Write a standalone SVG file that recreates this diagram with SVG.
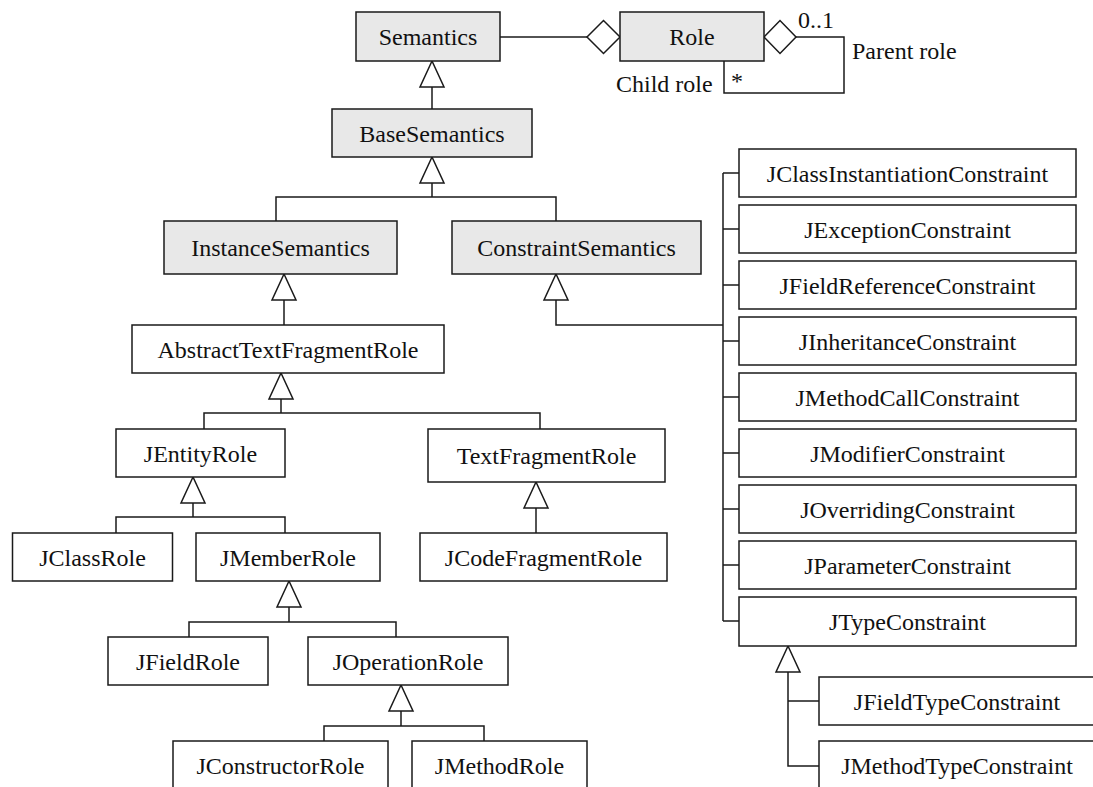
<svg xmlns="http://www.w3.org/2000/svg" width="1093" height="787" viewBox="0 0 1093 787">
  <style>
    .box { fill: #ffffff; stroke: #1a1a1a; stroke-width: 1.5; }
    .abs { fill: #e8e8e8; stroke: #1a1a1a; stroke-width: 1.5; }
    .lbl { font-family: "Liberation Serif", "Times New Roman", serif; font-size: 24px; fill: #111; text-anchor: middle; }
    .note { font-family: "Liberation Serif", "Times New Roman", serif; font-size: 24px; fill: #111; }
    .wire { fill: none; stroke: #1a1a1a; stroke-width: 1.5; }
    .tri { fill: #ffffff; stroke: #1a1a1a; stroke-width: 1.5; stroke-linejoin: miter; }
  </style>
  <rect width="1093" height="787" fill="#ffffff"/>

  <!-- connectors: generalisations, aggregations and the role self-association -->
  <g id="connectors">
    <!-- Semantics <>- Role -->
    <path class="wire" d="M500 37 H587"/>
    <polygon class="tri" points="587,37 603.5,20.5 620,37 603.5,53.5"/>
    <!-- Role self-aggregation (parent / child) -->
    <polygon class="tri" points="764,37 780,20.5 796,37 780,53.5"/>
    <path class="wire" d="M796 37 H844 V93 H724 V61"/>

    <!-- BaseSemantics -> Semantics -->
    <path class="wire" d="M432 87 V109"/>
    <polygon class="tri" points="432,61 420,87 444,87"/>

    <!-- Instance/ConstraintSemantics -> BaseSemantics -->
    <path class="wire" d="M432 183 V197 M276 221 V197 H556 V221"/>
    <polygon class="tri" points="432,157 420,183 444,183"/>

    <!-- AbstractTextFragmentRole -> InstanceSemantics -->
    <path class="wire" d="M284 300 V325"/>
    <polygon class="tri" points="284,274 272,300 296,300"/>

    <!-- constraint classes -> ConstraintSemantics -->
    <path class="wire" d="M556 300 V325 H723"/>
    <polygon class="tri" points="556,274 544,300 568,300"/>
    <path class="wire" d="M723 173 V621 M723 173 H739 M723 229 H739 M723 285 H739 M723 341 H739 M723 397 H739 M723 453 H739 M723 509 H739 M723 565 H739 M723 621 H739"/>

    <!-- JEntityRole / TextFragmentRole -> AbstractTextFragmentRole -->
    <path class="wire" d="M281 399 V413 M204 429 V413 H540 V429"/>
    <polygon class="tri" points="281,373 269,399 293,399"/>

    <!-- JClassRole / JMemberRole -> JEntityRole -->
    <path class="wire" d="M193 503 V517 M116 533 V517 H285 V533"/>
    <polygon class="tri" points="193,477 181,503 205,503"/>

    <!-- JCodeFragmentRole -> TextFragmentRole -->
    <path class="wire" d="M536 508 V533"/>
    <polygon class="tri" points="536,482 524,508 548,508"/>

    <!-- JFieldRole / JOperationRole -> JMemberRole -->
    <path class="wire" d="M289 607 V622 M189 637 V622 H396 V637"/>
    <polygon class="tri" points="289,581 277,607 301,607"/>

    <!-- JConstructorRole / JMethodRole -> JOperationRole -->
    <path class="wire" d="M401 711 V726 M324 741 V726 H484 V741"/>
    <polygon class="tri" points="401,685 389,711 413,711"/>

    <!-- JFieldTypeConstraint / JMethodTypeConstraint -> JTypeConstraint -->
    <path class="wire" d="M788 672 V766 H819 M788 701 H819"/>
    <polygon class="tri" points="788,646 776,672 800,672"/>
  </g>

  <!-- association end labels -->
  <g id="role-labels">
    <text class="note" x="798" y="28">0..1</text>
    <text class="note" x="852" y="59">Parent role</text>
    <text class="note" x="616" y="92">Child role</text>
    <text class="note" x="731" y="89">*</text>
  </g>

  <!-- abstract semantic classes -->
  <g id="semantics"><rect class="abs" x="356" y="12" width="144" height="49"/><text class="lbl" x="428" y="45">Semantics</text></g>
  <g id="role"><rect class="abs" x="620" y="12" width="144" height="49"/><text class="lbl" x="692" y="45">Role</text></g>
  <g id="base-semantics"><rect class="abs" x="332" y="109" width="200" height="48"/><text class="lbl" x="432" y="141.5">BaseSemantics</text></g>
  <g id="instance-semantics"><rect class="abs" x="164" y="221" width="233" height="53"/><text class="lbl" x="280.5" y="256">InstanceSemantics</text></g>
  <g id="constraint-semantics"><rect class="abs" x="452" y="221" width="249" height="53"/><text class="lbl" x="576.5" y="256">ConstraintSemantics</text></g>

  <!-- instance role classes -->
  <g id="abstract-text-fragment-role"><rect class="box" x="132" y="325" width="312" height="48"/><text class="lbl" x="288" y="357.5">AbstractTextFragmentRole</text></g>
  <g id="jentity-role"><rect class="box" x="116" y="429" width="169" height="48"/><text class="lbl" x="200.5" y="461.5">JEntityRole</text></g>
  <g id="text-fragment-role"><rect class="box" x="428" y="429" width="237" height="53"/><text class="lbl" x="546.5" y="464">TextFragmentRole</text></g>
  <g id="jclass-role"><rect class="box" x="12.5" y="533" width="160" height="48"/><text class="lbl" x="92.5" y="565.5">JClassRole</text></g>
  <g id="jmember-role"><rect class="box" x="196" y="533" width="184" height="48"/><text class="lbl" x="288" y="565.5">JMemberRole</text></g>
  <g id="jcode-fragment-role"><rect class="box" x="420" y="533" width="247" height="48"/><text class="lbl" x="543.5" y="565.5">JCodeFragmentRole</text></g>
  <g id="jfield-role"><rect class="box" x="108" y="637" width="160" height="48"/><text class="lbl" x="188" y="669.5">JFieldRole</text></g>
  <g id="joperation-role"><rect class="box" x="308" y="637" width="200" height="48"/><text class="lbl" x="408" y="669.5">JOperationRole</text></g>
  <g id="jconstructor-role"><rect class="box" x="173" y="741" width="215" height="60"/><text class="lbl" x="280.5" y="773.5">JConstructorRole</text></g>
  <g id="jmethod-role"><rect class="box" x="412" y="741" width="175" height="60"/><text class="lbl" x="499.5" y="773.5">JMethodRole</text></g>

  <!-- constraint classes -->
  <g id="jclass-instantiation-constraint"><rect class="box" x="739" y="149" width="337" height="48"/><text class="lbl" x="907.5" y="181.5">JClassInstantiationConstraint</text></g>
  <g id="jexception-constraint"><rect class="box" x="739" y="205" width="337" height="48"/><text class="lbl" x="907.5" y="237.5">JExceptionConstraint</text></g>
  <g id="jfield-reference-constraint"><rect class="box" x="739" y="261" width="337" height="48"/><text class="lbl" x="907.5" y="293.5">JFieldReferenceConstraint</text></g>
  <g id="jinheritance-constraint"><rect class="box" x="739" y="317" width="337" height="48"/><text class="lbl" x="907.5" y="349.5">JInheritanceConstraint</text></g>
  <g id="jmethod-call-constraint"><rect class="box" x="739" y="373" width="337" height="48"/><text class="lbl" x="907.5" y="405.5">JMethodCallConstraint</text></g>
  <g id="jmodifier-constraint"><rect class="box" x="739" y="429" width="337" height="48"/><text class="lbl" x="907.5" y="461.5">JModifierConstraint</text></g>
  <g id="joverriding-constraint"><rect class="box" x="739" y="485" width="337" height="48"/><text class="lbl" x="907.5" y="517.5">JOverridingConstraint</text></g>
  <g id="jparameter-constraint"><rect class="box" x="739" y="541" width="337" height="48"/><text class="lbl" x="907.5" y="573.5">JParameterConstraint</text></g>
  <g id="jtype-constraint"><rect class="box" x="739" y="597" width="337" height="49"/><text class="lbl" x="907.5" y="629.5">JTypeConstraint</text></g>
  <g id="jfield-type-constraint"><rect class="box" x="819" y="677" width="290" height="48"/><text class="lbl" x="957" y="709.5">JFieldTypeConstraint</text></g>
  <g id="jmethod-type-constraint"><rect class="box" x="819" y="741" width="290" height="60"/><text class="lbl" x="957" y="773.5">JMethodTypeConstraint</text></g>
</svg>
